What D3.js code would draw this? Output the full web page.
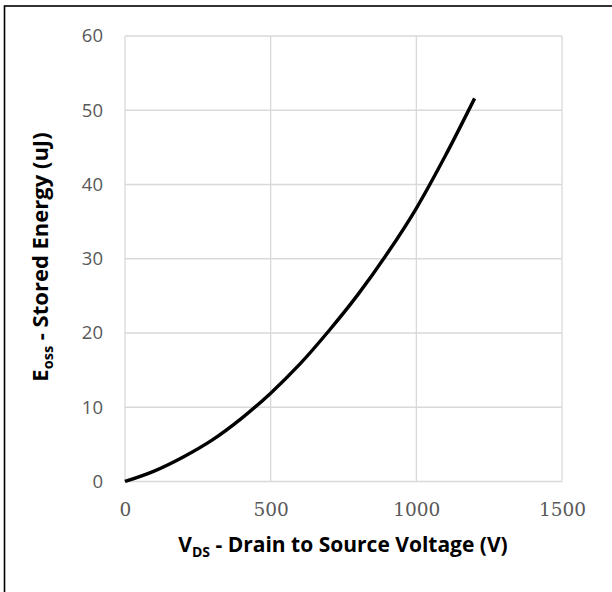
<!DOCTYPE html>
<html>
<head>
<meta charset="utf-8">
<script src="https://cdn.jsdelivr.net/npm/d3@7"></script>
<style>
  body { margin: 0; background: #fff; }
  svg { display: block; }
</style>
</head>
<body>
<script>
// Eoss vs VDS
var vds = [0, 100, 200, 300, 400, 500, 600, 700, 800, 900, 1000, 1100, 1200];
var eoss = [0, 1.4, 3.3, 5.6, 8.5, 11.9, 15.8, 20.3, 25.2, 30.7, 36.8, 43.9, 51.6];
var xTicks = [0, 500, 1000, 1500];
var yTicks = [0, 10, 20, 30, 40, 50, 60];

function drawChart() {
    var W = 612, H = 592;
    var mLeft = 125, mRight = 562, mTop = 36, mBottom = 481.5;

    var svg = d3.select("body").append("svg")
        .attr("width", W)
        .attr("height", H);

    svg.append("rect").attr("width", W).attr("height", H).attr("fill", "#fff");

    // outer frame (only left/top visible, the rest is cropped)
    svg.append("rect")
        .attr("x", 4.5).attr("y", 6)
        .attr("width", W + 20).attr("height", H + 20)
        .attr("fill", "none")
        .attr("stroke", "#000")
        .attr("stroke-width", 1.6);

    var x = d3.scaleLinear().domain([0, 1500]).range([mLeft, mRight]);
    var y = d3.scaleLinear().domain([0, 60]).range([mBottom, mTop]);

    // grid
    var grid = svg.append("g");
    grid.selectAll(".gx").data(xTicks).enter().append("line")
        .attr("x1", function(d) { return x(d); })
        .attr("x2", function(d) { return x(d); })
        .attr("y1", y(0)).attr("y2", y(60))
        .attr("stroke", "#d9d9d9").attr("stroke-width", 1.3);
    grid.selectAll(".gy").data(yTicks).enter().append("line")
        .attr("y1", function(d) { return y(d); })
        .attr("y2", function(d) { return y(d); })
        .attr("x1", x(0)).attr("x2", x(1500))
        .attr("stroke", "#d9d9d9").attr("stroke-width", 1.3);

    // tick labels via d3 axes, lines hidden
    var xAxis = svg.append("g")
        .attr("transform", "translate(0," + mBottom + ")")
        .call(d3.axisBottom(x).tickValues(xTicks).tickFormat(d3.format("d")).tickSize(0).tickPadding(21));
    xAxis.select(".domain").remove();
    xAxis.selectAll("text")
        .attr("font-family", "'DejaVu Serif', serif")
        .attr("font-size", 18.5)
        .attr("fill", "#595959");

    var yAxis = svg.append("g")
        .attr("transform", "translate(" + mLeft + ",0)")
        .call(d3.axisLeft(y).tickValues(yTicks).tickFormat(d3.format("d")).tickSize(0).tickPadding(22));
    yAxis.select(".domain").remove();
    yAxis.selectAll("text")
        .attr("font-family", "'Open Sans', sans-serif")
        .attr("font-size", 18.5)
        .attr("fill", "#595959");

    // curve
    var line = d3.line()
        .x(function(d, i) { return x(vds[i]); })
        .y(function(d) { return y(d); })
        .curve(d3.curveMonotoneX);

    svg.append("path")
        .datum(eoss)
        .attr("d", line)
        .attr("fill", "none")
        .attr("stroke", "#000")
        .attr("stroke-width", 3.4);

    // x title
    var xt = svg.append("text")
        .attr("x", 343).attr("y", 552)
        .attr("text-anchor", "middle")
        .attr("font-family", "'Open Sans', sans-serif")
        .attr("font-weight", "bold")
        .attr("font-size", 21)
        .attr("fill", "#000");
    xt.append("tspan").text("V");
    xt.append("tspan").attr("font-size", 14).attr("dy", 5).text("DS");
    xt.append("tspan").attr("dy", -5).text(" - Drain to Source Voltage (V)");

    // y title
    var yt = svg.append("text")
        .attr("transform", "translate(48,257) rotate(-90)")
        .attr("text-anchor", "middle")
        .attr("font-family", "'Open Sans', sans-serif")
        .attr("font-weight", "bold")
        .attr("font-size", 22)
        .attr("fill", "#000");
    yt.append("tspan").text("E");
    yt.append("tspan").attr("font-size", 14.5).attr("dy", 5).text("oss");
    yt.append("tspan").attr("dy", -5).text(" - Stored Energy (uJ)");
}

drawChart();
</script>
</body>
</html>
